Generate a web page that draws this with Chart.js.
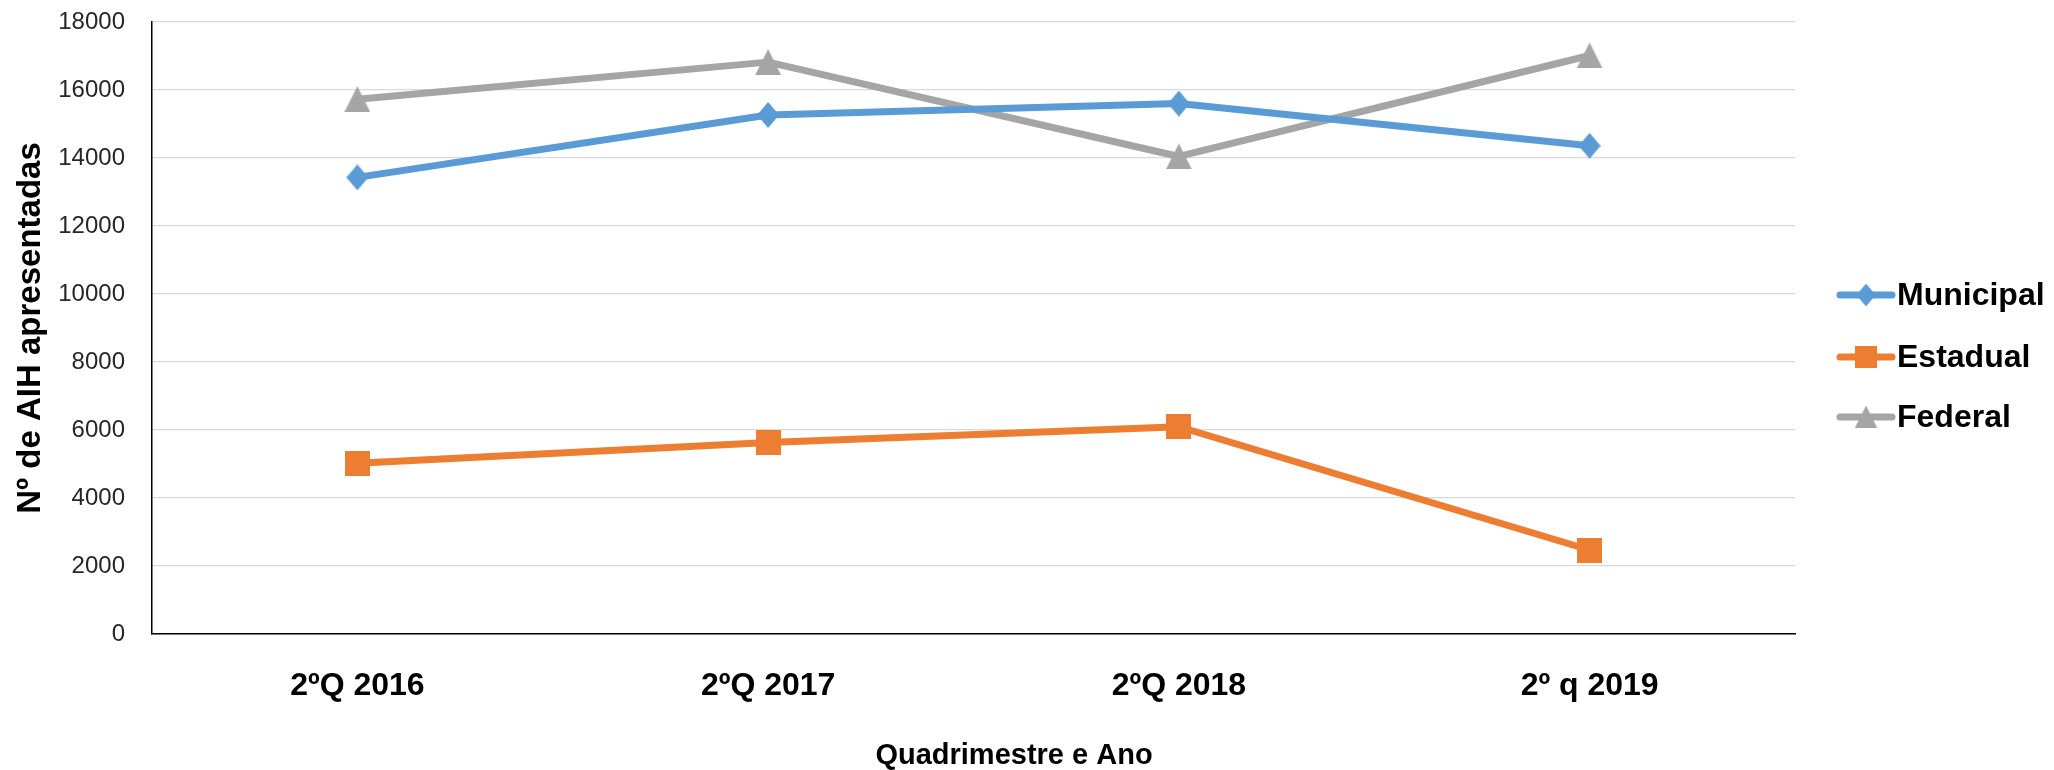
<!DOCTYPE html>
<html><head><meta charset="utf-8">
<script src="https://cdn.jsdelivr.net/npm/chart.js@4/dist/chart.umd.min.js"></script>
<style>html,body{margin:0;padding:0;background:#fff;overflow:hidden}#wrap{width:2054px;height:770px}</style>
</head><body><div id="wrap"><canvas id="c" width="2054" height="770"></canvas></div>
<script>
// ---- data ----
const categories = ['2ºQ 2016', '2ºQ 2017', '2ºQ 2018', '2º q 2019'];
const seriesNames = ['Municipal', 'Estadual', 'Federal'];
const municipal = [13430, 15265, 15600, 14360];
const estadual = [5020, 5635, 6095, 2470];
const federal = [15730, 16820, 14045, 17015];
const yMin = 0, yMax = 18000, yStep = 2000;
const yTitle = 'Nº de AIH apresentadas';
const xTitle = 'Quadrimestre e Ano';

// ---- styles ----
const colors = ['#5B9BD5', '#ED7D31', '#A5A5A5'];
const markerShapes = ['diamond', 'square', 'triangle'];
const markerSizes = [[22, 26], [25, 25], [26, 26]];
const FONT = '"Liberation Sans", Arial, sans-serif';

function makeMarker(shape, w, h, color) {
  const cv = document.createElement('canvas');
  cv.width = w; cv.height = h;
  const c = cv.getContext('2d');
  c.fillStyle = color;
  c.beginPath();
  if (shape === 'square') {
    c.rect(0, 0, w, h);
  } else if (shape === 'diamond') {
    c.moveTo(w / 2, 0); c.lineTo(w, h / 2); c.lineTo(w / 2, h); c.lineTo(0, h / 2); c.closePath();
  } else {
    c.moveTo(w / 2, 0); c.lineTo(w, h); c.lineTo(0, h); c.closePath();
  }
  c.fill();
  return cv;
}
const markerImgs = markerShapes.map((s, i) => makeMarker(s, markerSizes[i][0], markerSizes[i][1], colors[i]));

const legendPlugin = {
  id: 'customLegend',
  afterDraw(chart) {
    const ctx = chart.ctx;
    const ys = [295, 357, 417];
    chart.data.datasets.forEach((ds, i) => {
      const y = ys[i];
      ctx.save();
      ctx.strokeStyle = ds.borderColor;
      ctx.lineWidth = 7;
      ctx.lineCap = 'round';
      ctx.beginPath(); ctx.moveTo(1840, y); ctx.lineTo(1892, y); ctx.stroke();
      const img = markerImgs[i];
      const w = img.width * 0.88, h = img.height * 0.88;
      ctx.drawImage(img, 1866 - w / 2, y - h / 2, w, h);
      ctx.fillStyle = '#000';
      ctx.font = 'bold 32px ' + FONT;
      ctx.textBaseline = 'middle';
      ctx.textAlign = 'left';
      ctx.fillText(ds.label, 1897, y + 1);
      ctx.restore();
    });
    // x-axis title
    ctx.save();
    ctx.fillStyle = '#000';
    ctx.font = 'bold 29px ' + FONT;
    ctx.textAlign = 'center';
    ctx.textBaseline = 'middle';
    ctx.fillText(xTitle, 1014, 756);
    ctx.restore();
  }
};

const seriesData = [municipal, estadual, federal];
const datasets = seriesNames.map((name, i) => ({
  label: name,
  data: seriesData[i],
  borderColor: colors[i],
  backgroundColor: colors[i],
  pointBackgroundColor: colors[i],
  pointBorderColor: colors[i],
  pointBorderWidth: 0,
  pointStyle: markerImgs[i],
  pointRadius: 13,
  pointHoverRadius: 13,
  borderWidth: 7,
  borderCapStyle: 'round',
  borderJoinStyle: 'round',
  tension: 0,
  fill: false
}));

new Chart(document.getElementById('c'), {
  type: 'line',
  data: { labels: categories, datasets },
  plugins: [legendPlugin],
  options: {
    responsive: false,
    animation: false,
    devicePixelRatio: 1,
    layout: { padding: { top: 22, right: 259, left: 0, bottom: 0 } },
    plugins: {
      legend: { display: false },
      tooltip: { enabled: false },
      title: { display: false }
    },
    scales: {
      x: {
        type: 'category',
        offset: true,
        afterFit: (s) => { s.height = 136; s.paddingLeft = 0; s.paddingRight = 0; },
        grid: { display: false, drawTicks: false },
        border: { display: true, color: '#000', width: 1.5 },
        ticks: { color: '#000', padding: 33, font: { family: FONT, size: 32, weight: 'bold' } }
      },
      y: {
        min: yMin, max: yMax,
        afterFit: (s) => { s.width = 152; s.paddingTop = 0; s.paddingBottom = 0; },
        grid: { color: '#D9D9D9', lineWidth: 1.3, drawTicks: false },
        border: { display: true, color: '#000', width: 1.5 },
        ticks: {
          stepSize: yStep, color: '#262626', padding: 27,
          font: { family: FONT, size: 24 },
          callback: (v) => String(v)
        },
        title: {
          display: true, text: yTitle, color: '#000',
          font: { family: FONT, size: 33, weight: 'bold', lineHeight: 1.2 },
          padding: { top: 11, bottom: 0 }
        }
      }
    }
  }
});
</script></body></html>
